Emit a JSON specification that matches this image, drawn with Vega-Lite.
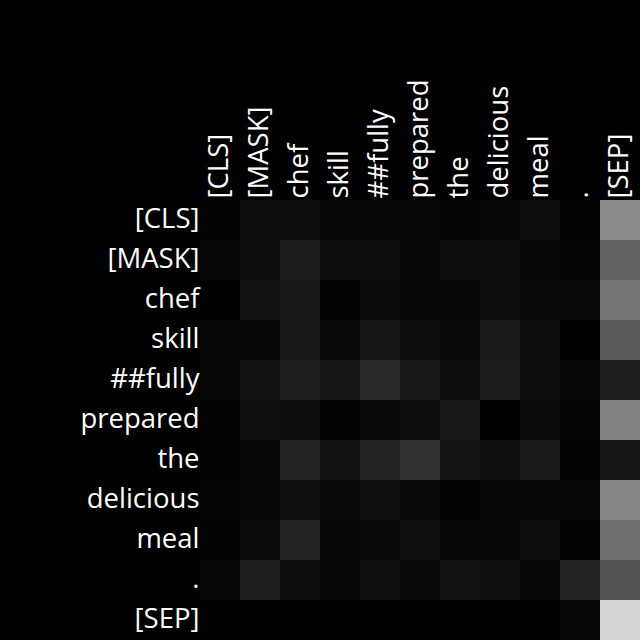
{
  "$schema": "https://vega.github.io/schema/vega-lite/v6.json",
  "width": 440,
  "height": 440,
  "autosize": {"type": "none"},
  "padding": {"left": 200, "top": 200, "right": 0, "bottom": 0},
  "background": "#000000",
  "config": {"view": {"stroke": null}, "font": "Open Sans"},
  "data": {
    "values": [
      {"row": "[CLS]", "g": [3, 13, 13, 7, 6, 5, 4, 5, 12, 3, 138]},
      {"row": "[MASK]", "g": [7, 15, 28, 14, 12, 7, 12, 14, 7, 4, 99]},
      {"row": "chef", "g": [1, 18, 24, 2, 11, 8, 7, 13, 9, 9, 118]},
      {"row": "skill", "g": [5, 7, 23, 9, 22, 14, 9, 26, 14, 1, 90]},
      {"row": "##fully", "g": [5, 18, 31, 22, 41, 24, 15, 29, 12, 6, 31]},
      {"row": "prepared", "g": [2, 17, 13, 3, 9, 13, 24, 1, 11, 4, 130]},
      {"row": "the", "g": [2, 6, 36, 18, 34, 49, 19, 17, 27, 3, 21]},
      {"row": "delicious", "g": [4, 6, 16, 10, 16, 10, 3, 8, 6, 6, 135]},
      {"row": "meal", "g": [3, 11, 33, 5, 10, 17, 6, 5, 14, 3, 111]},
      {"row": ".", "g": [8, 31, 12, 8, 17, 10, 18, 16, 6, 34, 82]},
      {"row": "[SEP]", "g": [1, 0, 0, 0, 0, 0, 0, 0, 0, 8, 212]}
    ]
  },
  "transform": [
    {"calculate": "['[CLS]','[MASK]','chef','skill','##fully','prepared','the','delicious','meal','.','[SEP]']", "as": "col"},
    {"flatten": ["g", "col"]}
  ],
  "mark": {"type": "rect"},
  "encoding": {
    "x": {
      "field": "col", "type": "nominal",
      "sort": ["[CLS]", "[MASK]", "chef", "skill", "##fully", "prepared", "the", "delicious", "meal", ".", "[SEP]"],
      "scale": {"paddingInner": 0, "paddingOuter": 0},
      "axis": {"orient": "top", "title": null, "labelAngle": -90, "labelColor": "#ffffff", "labelFontSize": 27.5, "labelFont": "Open Sans", "ticks": false, "domain": false, "labelPadding": 2, "labelAlign": "left", "labelBaseline": "middle"}
    },
    "y": {
      "field": "row", "type": "nominal",
      "sort": ["[CLS]", "[MASK]", "chef", "skill", "##fully", "prepared", "the", "delicious", "meal", ".", "[SEP]"],
      "scale": {"paddingInner": 0, "paddingOuter": 0},
      "axis": {"title": null, "labelColor": "#ffffff", "labelFontSize": 27.5, "labelFont": "Open Sans", "ticks": false, "domain": false, "labelPadding": 1}
    },
    "color": {
      "field": "g", "type": "quantitative",
      "scale": {"domain": [0, 255], "range": ["#000000", "#ffffff"], "interpolate": "rgb"},
      "legend": null
    }
  }
}
